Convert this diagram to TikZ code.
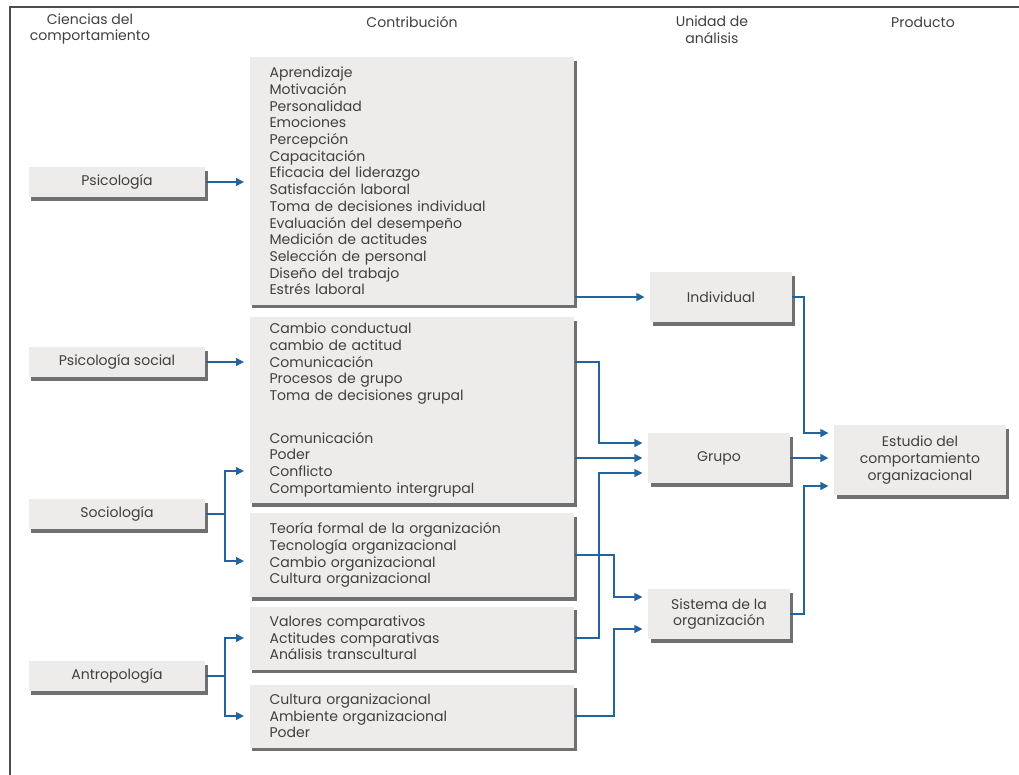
\documentclass[tikz,border=0pt]{standalone}
\usepackage{fontspec}
\setmainfont{Poppins}
\usetikzlibrary{arrows.meta,shadows,positioning}
\definecolor{boxgray}{RGB}{238,236,234}
\definecolor{linkblue}{RGB}{36,100,158}
\definecolor{txtgray}{RGB}{64,64,64}

\begin{document}
\begin{tikzpicture}[
  x=0.02cm, y=-0.02cm,
  every node/.style={font=\fontsize{8}{9.5}\selectfont, text=txtgray},
  box/.style={rectangle, fill=boxgray, inner sep=0pt,
    drop shadow={fill=black!75, opacity=0.75, shadow xshift=1.6pt, shadow yshift=-2pt}},
  sci/.style={box, minimum width=3.54cm, minimum height=0.6cm},
  contrib/.style={box, minimum width=6.5cm, text width=5.7cm, align=left},
  unit/.style={box, minimum width=2.84cm, minimum height=1cm, align=center},
  head/.style={align=center},
  link/.style={draw=linkblue, line width=0.8pt, -{Triangle[length=4.5pt,width=4.5pt]}, shorten >=3pt}
]
\useasboundingbox (0,0) rectangle (1019,775);
\draw[line width=1pt, black!70] (10,775) |- (1019,7);

% column heads
\node[head] (h1) at (90,29) {Ciencias del\\comportamiento};
\node[head] (h2) at (412,22) {Contribución};
\node[head] (h3) at (712,30) {Unidad de\\análisis};
\node[head] (h4) at (923,22) {Producto};

% behavioural sciences
\node[sci] (psi) at (117,182) {Psicología};
\node[sci] (psisoc) at (117,362) {Psicología social};
\node[sci] (soc) at (117,514) {Sociología};
\node[sci] (antro) at (117,676) {Antropología};

% contributions
\node[contrib, minimum height=4.96cm] (c1) at (412,181) {Aprendizaje\\Motivación\\Personalidad\\Emociones\\Percepción\\Capacitación\\Eficacia del liderazgo\\Satisfacción laboral\\Toma de decisiones individual\\Evaluación del desempeño\\Medición de actitudes\\Selección de personal\\Diseño del trabajo\\Estrés laboral};
\node[contrib, minimum height=3.72cm] (c2) at (412,410) {Cambio conductual\\cambio de actitud\\Comunicación\\Procesos de grupo\\Toma de decisiones grupal\\[14.7pt]Comunicación\\Poder\\Conflicto\\Comportamiento intergrupal};
\node[contrib, minimum height=1.68cm] (c3) at (412,555) {Teoría formal de la organización\\Tecnología organizacional\\Cambio organizacional\\Cultura organizacional};
\node[contrib, minimum height=1.26cm] (c4) at (412,638) {Valores comparativos\\Actitudes comparativas\\Análisis transcultural};
\node[contrib, minimum height=1.26cm] (c5) at (412,716) {Cultura organizacional\\Ambiente organizacional\\Poder};

% units of analysis and product
\node[unit] (ind) at (721,297) {Individual};
\node[unit] (grp) at (719,458) {Grupo};
\node[unit] (sis) at (719,614) {Sistema de la\\organización};
\node[unit, minimum width=3.44cm, minimum height=1.4cm] (prod) at (920,460) {Estudio del\\comportamiento\\organizacional};

\coordinate (busL) at (225,0);
\coordinate (busG) at (599,0);
\coordinate (busS) at (614,0);
\coordinate (busP) at (804,0);

% left links
\draw[link] (psi) -- (c1.west |- psi);
\draw[link] (psisoc) -- (c2.west |- psisoc);
\draw[link] (soc) -- (busL |- soc) |- ([yshift=-1.22cm]c2.west);
\draw[link] (busL |- soc) |- ([yshift=-0.12cm]c3.west);
\draw[link] (antro) -- (busL |- antro) |- (c4.west);
\draw[link] (busL |- antro) |- (c5.west);

% right links
\draw[link] (c1.east |- ind) -- (ind);
\draw[link] (c2.east |- psisoc) -- (busG |- psisoc) |- ([yshift=0.3cm]grp.west);
\draw[link] (c2.east |- grp) -- (grp);
\draw[link] (c4.east) -- (busG |- c4.east) |- ([yshift=-0.3cm]grp.west);
\draw[link] (c3.east) -- (busS |- c3.east) |- ([yshift=0.34cm]sis.west);
\draw[link] (c5.east) -- (busS |- c5.east) |- ([yshift=-0.3cm]sis.west);
\draw[link] (ind) -- (busP |- ind) |- ([yshift=0.54cm]prod.west);
\draw[link] (grp) -- (prod.west |- grp);
\draw[link] (sis) -- (busP |- sis) |- ([yshift=-0.52cm]prod.west);
\end{tikzpicture}
\end{document}
